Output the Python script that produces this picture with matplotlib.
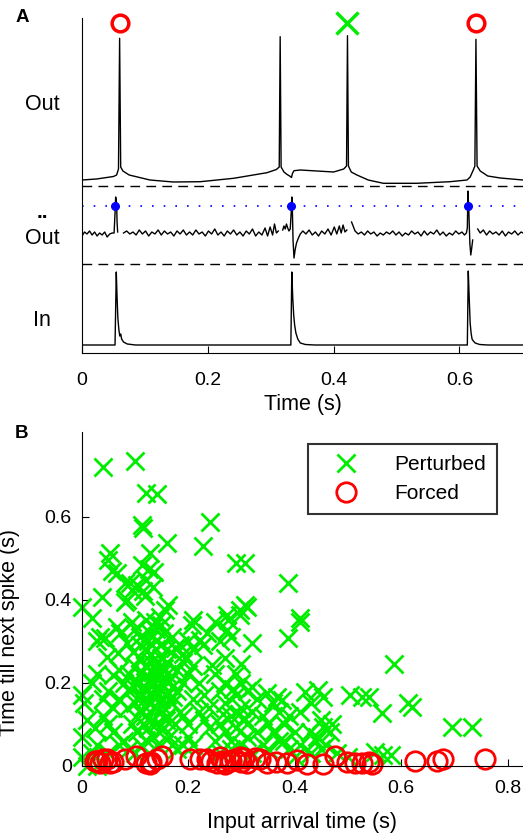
import numpy as np
import matplotlib
matplotlib.use("Agg")
from matplotlib import pyplot as plt

plt.rcParams['font.family'] = ['Liberation Sans', 'DejaVu Sans']

# ---- panel A: traces (arbitrary units) ----
out_t = [0, 0.023, 0.050, 0.055, 0.058, 0.0598, 0.0615, 0.065, 0.075, 0.108, 0.145, 0.188,
         0.241, 0.294, 0.309, 0.3135, 0.315, 0.3165, 0.321, 0.326, 0.330, 0.333, 0.3345, 0.337,
         0.347, 0.400, 0.416, 0.4205, 0.422, 0.4235, 0.428, 0.437, 0.455, 0.479, 0.532, 0.585,
         0.612, 0.617, 0.622, 0.6245, 0.6262, 0.628, 0.633, 0.645, 0.665, 0.701]
out_v = [173, 174, 176.5, 178, 184, 314.7, 186, 182, 178, 173, 171, 171.3,
         174.7, 180.3, 183.5, 186, 316.3, 186, 181, 178.5, 177, 175.5, 179.5, 182.3,
         183, 181, 184, 187, 317.3, 187, 181, 178, 173, 169.7, 169.7, 171.3,
         173, 176, 183, 187, 313.7, 187, 182, 177, 175, 173]

# second derivative of output (gaps = nan)
acc_t = [0.000, 0.004, 0.008, 0.012, 0.016, 0.020, 0.024, 0.028, 0.032, 0.036, 0.040, 0.044,
         0.048, 0.051, 0.0525, 0.0535, 0.055, 0.0558, 0.0567, 0.060,
         0.066, 0.071, 0.076, 0.081, 0.086, 0.091, 0.096, 0.101, 0.106, 0.111, 0.116, 0.121,
         0.126, 0.131, 0.136, 0.141, 0.146, 0.151, 0.156, 0.161, 0.166, 0.171, 0.176, 0.181,
         0.186, 0.191, 0.196, 0.201, 0.206, 0.211, 0.216, 0.221, 0.226, 0.231, 0.236, 0.241,
         0.246, 0.251, 0.256, 0.261, 0.266, 0.271, 0.276, 0.281, 0.286, 0.291, 0.295, 0.299,
         0.303, 0.306, 0.309, 0.312, 0.315,
         0.319, 0.321, 0.323, 0.325, 0.327, 0.329, 0.331, 0.3325, 0.3335, 0.3345, 0.3355,
         0.337, 0.339, 0.341, 0.344, 0.347,
         0.351, 0.356, 0.361, 0.366, 0.371, 0.376, 0.381, 0.386, 0.391, 0.396, 0.401, 0.405,
         0.409, 0.412, 0.415, 0.418, 0.421, 0.424,
         0.4285, 0.431, 0.434, 0.439, 0.444, 0.449, 0.454, 0.459, 0.464, 0.469, 0.474, 0.479,
         0.484, 0.489, 0.494, 0.499, 0.504, 0.509, 0.514, 0.519, 0.524, 0.529, 0.534, 0.539,
         0.544, 0.549, 0.554, 0.559, 0.564, 0.569, 0.574, 0.579, 0.584, 0.589, 0.594, 0.599,
         0.604, 0.608, 0.611, 0.6125, 0.6135, 0.615, 0.6165, 0.618, 0.6195, 0.621, 0.624,
         0.629, 0.633, 0.638, 0.643, 0.648, 0.653, 0.658, 0.663, 0.668, 0.673, 0.678, 0.683,
         0.688, 0.693, 0.698, 0.701]
acc_v = [117, 121, 119, 122, 118, 121, 117, 120, 118, 121, 116, 119,
         120, 120, 140, 156, 150, 130, 121, np.nan,
         120, 122, 119, 121, 118, 123, 119, 122, 117, 121, 119, 123, 118, 122, 119, 121,
         117, 122, 119, 123, 118, 121, 118, 123, 119, 121, 117, 122, 119, 124, 118, 121,
         117, 122, 119, 123, 118, 121, 117, 122, 119, 124, 117, 121, 118, 125, 117, 126,
         118, 129, 120, 122, np.nan,
         123, 127, 124, 129, 125, 122, 124, 140, 156, 140, 112,
         95, 104, 110, 115, 119,
         122, 119, 123, 118, 121, 117, 122, 119, 124, 118, 126, 119,
         127, 120, 128, 121, 123, np.nan,
         131, 127, 122, 119, 121, 118, 122, 119, 121, 117, 120, 118,
         121, 119, 122, 118, 121, 117, 120, 118, 122, 119, 121, 117,
         122, 118, 121, 119, 123, 118, 121, 117, 120, 118, 122, 119,
         121, 118, 120, 125, 162, 140, 110, 98, 105, 113, np.nan,
         124, 120, 123, 118, 122, 119, 121, 118, 122, 117, 121, 119,
         122, 118, 121, 120]

in_t = [0, 0.0525, 0.0545, 0.0555, 0.057, 0.0585, 0.060, 0.0615, 0.063, 0.066, 0.072, 0.085,
        0.332, 0.3335, 0.335, 0.3365, 0.338, 0.340, 0.343, 0.347, 0.355, 0.37,
        0.6125, 0.614, 0.6155, 0.617, 0.6185, 0.620, 0.622, 0.625, 0.632, 0.645, 0.701]
in_v = [8, 8, 81, 60, 35, 24, 17, 19, 14, 11, 9, 8,
        8, 81, 55, 38, 28, 20, 14, 10, 8.5, 8,
        8, 82, 55, 30, 20, 14, 12, 10, 8.5, 8, 8]

input_times = [0.0525, 0.333, 0.614]
thresh_level = 147
forced_spikes = [0.0598, 0.6262]
perturbed_spikes = [0.422]
dash_levels = [167, 89]

# ---- panel B: scatter ----
pert_x = [0.041, 0.101, 0.122, 0.141, 0.113, 0.116, 0.241, 0.16, 0.228, 0.054, 0.05, 0.129,
          0.291, 0.307, 0.057, 0.066, 0.127, 0.137, 0.135, 0.082, 0.094, 0.038, 0.388, 0.085,
          0.163, 0.122, 0.0, 0.307, 0.298, 0.273, 0.41, 0.21, 0.115, 0.12, 0.105, 0.113, 0.091,
          0.019, 0.066, 0.035, 0.029, 0.072, 0.085, 0.122, 0.135, 0.147, 0.129, 0.154, 0.207,
          0.235, 0.223, 0.229, 0.273, 0.275, 0.298, 0.31, 0.32, 0.388, 0.41, 0.047, 0.097,
          0.11, 0.14, 0.16, 0.17, 0.10, 0.11, 0.14, 0.15, 0.125, 0.19, 0.26, 0.28, 0.27,
          0.082, 0.094, 0.138, 0.157, 0.251, 0.044, 0.15, 0.176, 0.069, 0.06, 0.194, 0.245,
          0.10, 0.11, 0.12, 0.13, 0.14, 0.15, 0.16, 0.12, 0.13, 0.14, 0.11, 0.12, 0.13, 0.14,
          0.15, 0.16, 0.17, 0.09, 0.10, 0.11, 0.12, 0.13, 0.14, 0.15, 0.16, 0.17, 0.18, 0.13,
          0.14, 0.12, 0.15, 0.16, 0.11, 0.10, 0.09, 0.085, 0.095, 0.105, 0.115, 0.125, 0.135,
          0.145, 0.155, 0.165, 0.175, 0.185, 0.19, 0.18, 0.125, 0.135, 0.145, 0.128, 0.138,
          0.118, 0.148, 0.132, 0.142, 0.122, 0.155, 0.105, 0.165, 0.172, 0.152, 0.118, 0.108,
          0.098, 0.158, 0.122, 0.142, 0.112,
          0.22, 0.23, 0.24, 0.25, 0.26, 0.27, 0.28, 0.29, 0.30, 0.31, 0.32, 0.33, 0.26, 0.27,
          0.28, 0.29, 0.30, 0.31, 0.25, 0.24, 0.23, 0.22, 0.21, 0.20, 0.20, 0.21, 0.29, 0.30,
          0.31, 0.32, 0.33, 0.34, 0.35, 0.36, 0.34, 0.35, 0.37, 0.28, 0.26, 0.32, 0.30, 0.27,
          0.285, 0.295, 0.305, 0.265,
          0.19, 0.20, 0.21, 0.19, 0.18, 0.17, 0.20, 0.21, 0.185, 0.19,
          0.0, 0.005, 0.01, 0.0, 0.025, 0.04, 0.05, 0.06, 0.07, 0.03, 0.02, 0.0, 0.05, 0.08,
          0.09, 0.06, 0.07, 0.05, 0.08, 0.07, 0.02, 0.03, 0.04, 0.01, 0.03, 0.10, 0.38, 0.39,
          0.40, 0.41, 0.43, 0.44, 0.45, 0.40, 0.38, 0.37, 0.36,
          0.348, 0.367, 0.376, 0.42, 0.445, 0.454, 0.504, 0.526, 0.564, 0.614, 0.62, 0.695,
          0.733, 0.587, 0.429, 0.442, 0.454, 0.467, 0.551, 0.567, 0.582, 0.41, 0.39, 0.45,
          0.47, 0.43, 0.46, 0.48, 0.50, 0.539]
pert_y = [0.72, 0.733, 0.656, 0.655, 0.58, 0.572, 0.588, 0.537, 0.53, 0.512, 0.496, 0.512,
          0.488, 0.489, 0.468, 0.464, 0.475, 0.466, 0.431, 0.44, 0.423, 0.407, 0.441, 0.40,
          0.387, 0.447, 0.383, 0.387, 0.375, 0.363, 0.355, 0.351, 0.42, 0.41, 0.435, 0.484, 0.44,
          0.355, 0.335, 0.311, 0.30, 0.319, 0.295, 0.351, 0.335, 0.359, 0.319, 0.319, 0.339,
          0.319, 0.303, 0.291, 0.327, 0.35, 0.363, 0.383, 0.295, 0.307, 0.347, 0.263, 0.275,
          0.29, 0.30, 0.28, 0.31, 0.33, 0.31, 0.33, 0.34, 0.30, 0.27, 0.30, 0.31, 0.26,
          0.395, 0.347, 0.347, 0.375, 0.347, 0.307, 0.29, 0.283, 0.271, 0.219, 0.259, 0.243,
          0.20, 0.22, 0.19, 0.21, 0.18, 0.20, 0.17, 0.24, 0.25, 0.23, 0.17, 0.16, 0.15, 0.14,
          0.16, 0.22, 0.19, 0.18, 0.15, 0.13, 0.12, 0.11, 0.10, 0.13, 0.12, 0.15, 0.18, 0.27,
          0.28, 0.28, 0.26, 0.25, 0.26, 0.24, 0.22, 0.14, 0.10, 0.08, 0.10, 0.09, 0.07,
          0.08, 0.09, 0.07, 0.10, 0.13, 0.20, 0.23, 0.205, 0.195, 0.215, 0.175, 0.165,
          0.185, 0.185, 0.225, 0.245, 0.215, 0.235, 0.205, 0.205, 0.165, 0.145, 0.145, 0.165,
          0.19, 0.11, 0.062, 0.05, 0.05,
          0.20, 0.17, 0.14, 0.22, 0.18, 0.15, 0.12, 0.17, 0.14, 0.10, 0.13, 0.08, 0.10, 0.08,
          0.06, 0.09, 0.05, 0.07, 0.06, 0.09, 0.11, 0.13, 0.16, 0.10, 0.22, 0.24, 0.22, 0.20,
          0.18, 0.19, 0.16, 0.12, 0.10, 0.08, 0.05, 0.04, 0.06, 0.04, 0.03, 0.03, 0.245, 0.20,
          0.185, 0.125, 0.115, 0.125,
          0.12, 0.07, 0.05, 0.05, 0.04, 0.05, 0.30, 0.28, 0.29, 0.25,
          0.17, 0.15, 0.11, 0.07, 0.09, 0.12, 0.10, 0.08, 0.05, 0.05, 0.03, 0.02, 0.03, 0.06,
          0.04, 0.14, 0.16, 0.18, 0.20, 0.23, 0.20, 0.22, 0.16, 0.0, 0.0, 0.03, 0.06, 0.04,
          0.08, 0.05, 0.03, 0.06, 0.04, 0.02, 0.10, 0.13, 0.15,
          0.174, 0.166, 0.158, 0.178, 0.182, 0.166, 0.17, 0.166, 0.126, 0.15, 0.142, 0.094,
          0.094, 0.244, 0.082, 0.07, 0.094, 0.082, 0.034, 0.026, 0.026, 0.13, 0.12, 0.11,
          0.10, 0.15, 0.05, 0.03, 0.02, 0.166]

forced_x = [0.025, 0.035, 0.047, 0.053, 0.081, 0.103, 0.122, 0.129, 0.141, 0.151, 0.204,
            0.223, 0.235, 0.244, 0.254, 0.263, 0.269, 0.279, 0.288, 0.298, 0.31, 0.326, 0.335,
            0.348, 0.366, 0.385, 0.404, 0.423, 0.454, 0.476, 0.498, 0.514, 0.526, 0.545, 0.539,
            0.626, 0.667, 0.679, 0.758, 0.03, 0.06, 0.27, 0.28, 0.30, 0.305, 0.26, 0.04, 0.13]
forced_y = [0.011, 0.007, 0.015, 0.007, 0.015, 0.023, 0.007, 0.003, 0.015, 0.023, 0.015,
            0.017, 0.015, 0.011, 0.007, 0.011, 0.007, 0.011, 0.015, 0.021, 0.007, 0.019, 0.015,
            0.007, 0.009, 0.007, 0.013, 0.003, 0.003, 0.023, 0.009, 0.007, 0.007, 0.005, 0.01,
            0.011, 0.011, 0.015, 0.015, 0.012, 0.01, 0.005, 0.012, 0.008, 0.018, 0.02, 0.016, 0.01]

green = (0, 0.93, 0)
red = (1, 0, 0)

fig = plt.figure(figsize=(5.23, 8.35), dpi=100)

# ================= panel A =================
axA = fig.add_axes([82 / 523, 1 - 353 / 835, 441 / 523, 335 / 835])
axA.plot(out_t, out_v, color='k', lw=1.0)
axA.plot(acc_t, acc_v, color='k', lw=1.0)
axA.plot(in_t, in_v, color='k', lw=1.0)
for lev in dash_levels:
    axA.axhline(lev, color='k', lw=1.0, ls=(0, (7, 4.5)))
axA.axhline(thresh_level, color='b', lw=1.2, ls=(0, (1, 6)))
axA.plot(input_times, [thresh_level] * len(input_times), 'o', color='b', ms=5.5)
axA.plot(forced_spikes, [330] * len(forced_spikes), 'o', mfc='none', mec=red, ms=12,
         mew=2.5, clip_on=False)
axA.plot(perturbed_spikes, [330] * len(perturbed_spikes), 'x', color=green, ms=16,
         mew=2.5, clip_on=False)
axA.set_xlim(0, 0.701)
axA.set_ylim(0, 335)
axA.set_xticks([0, 0.2, 0.4, 0.6])
axA.set_xticklabels(['0', '0.2', '0.4', '0.6'])
axA.set_yticks([])
axA.spines['top'].set_visible(False)
axA.spines['right'].set_visible(False)
axA.tick_params(axis='x', direction='in', length=5, labelsize=14, pad=14)
axA.set_xlabel('Time (s)', fontsize=15.5, labelpad=3)

fig.text(42 / 523, 1 - 105 / 835, 'Out', fontsize=15.5, ha='center', va='center')
fig.text(42 / 523, 1 - 212 / 835, '..', fontsize=15, ha='center', va='center',
         fontweight='bold')
fig.text(42 / 523, 1 - 239 / 835, 'Out', fontsize=15.5, ha='center', va='center')
fig.text(42 / 523, 1 - 320 / 835, 'In', fontsize=15.5, ha='center', va='center')
fig.text(22 / 523, 1 - 18 / 835, 'A', fontsize=13.5, fontweight='bold', ha='center', va='center')

# ================= panel B =================
axB = fig.add_axes([81.5 / 523, 1 - 765.7 / 835, 441.5 / 523, 333.7 / 835])
axB.plot(pert_x, pert_y, 'x', color=green, ms=12.5, mew=2, ls='none', clip_on=False,
         label='Perturbed')
axB.plot(forced_x, forced_y, 'o', mfc='none', mec=red, ms=14, mew=2, ls='none',
         clip_on=False, label='Forced')
axB.set_xlim(0, 0.829)
axB.set_ylim(0, 0.804)
axB.set_xticks([0, 0.2, 0.4, 0.6, 0.8])
axB.set_xticklabels(['0', '0.2', '0.4', '0.6', '0.8'])
axB.set_yticks([0, 0.2, 0.4, 0.6])
axB.set_yticklabels(['0', '0.2', '0.4', '0.6'])
axB.spines['top'].set_visible(False)
axB.spines['right'].set_visible(False)
axB.tick_params(direction='in', length=5, labelsize=14)
axB.tick_params(axis='x', pad=10)
axB.tick_params(axis='y', pad=7)
axB.set_xlabel('Input arrival time (s)', fontsize=15.5, labelpad=11)
axB.set_ylabel('Time till next spike (s)', fontsize=15.5)
axB.yaxis.set_label_coords(-0.139, 0.40)
leg = axB.legend(loc='upper left', bbox_to_anchor=(308 / 523, 1 - 444 / 835),
                 bbox_transform=fig.transFigure, fontsize=15, frameon=True, fancybox=False,
                 borderaxespad=0, handlelength=2.56, handletextpad=1.03, borderpad=0.55,
                 labelspacing=0.45)
leg.get_frame().set_edgecolor('k')
leg.get_frame().set_linewidth(1.5)
fig.text(22 / 523, 1 - 433 / 835, 'B', fontsize=13.5, fontweight='bold', ha='center', va='center')

fig.savefig('out.png', dpi=100)
